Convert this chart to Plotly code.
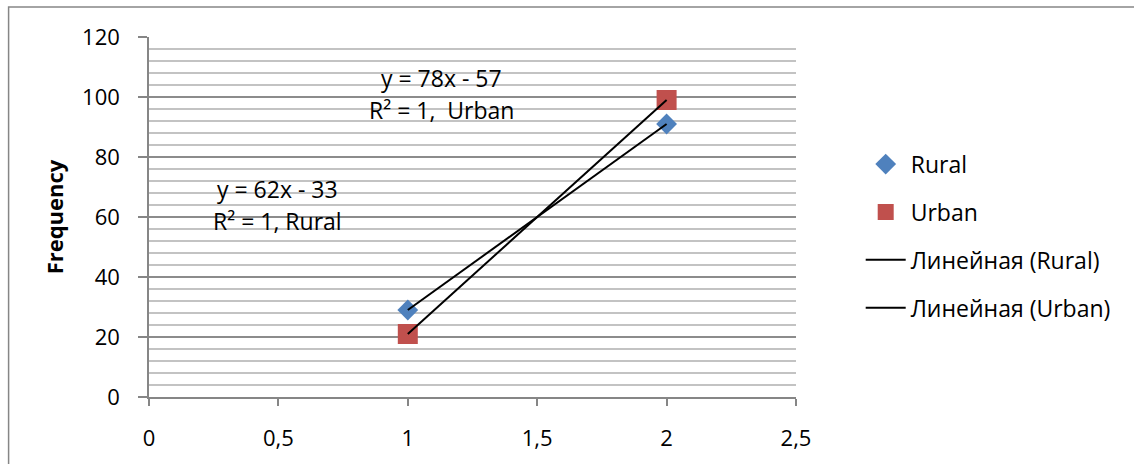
import plotly.graph_objects as go

x_vals = [1, 2]
rural = [29, 91]
urban = [21, 99]
series_names = ["Rural", "Urban", "Линейная (Rural)", "Линейная (Urban)"]
x_ticks = [0, 0.5, 1, 1.5, 2, 2.5]
x_tick_labels = ["0", "0,5", "1", "1,5", "2", "2,5"]
y_ticks = [0, 20, 40, 60, 80, 100, 120]
eq_texts = [("y = 78x - 57", 1.132, 106.4), ("R² = 1,  Urban", 1.132, 95.8),
            ("y = 62x - 33", 0.495, 69.3), ("R² = 1, Rural", 0.495, 58.7)]

FONT = "Open Sans"
fig = go.Figure()
fig.add_trace(go.Scatter(x=x_vals, y=rural, mode="markers", name=series_names[0],
                         marker=dict(symbol="diamond", size=16, color="#4F81BD"), legendgroup="a"))
fig.add_trace(go.Scatter(x=x_vals, y=urban, mode="markers", name=series_names[1],
                         marker=dict(symbol="square", size=20, color="#C0504D"), legendgroup="b"))
fig.add_trace(go.Scatter(x=x_vals, y=rural, mode="lines", name=series_names[2],
                         line=dict(color="black", width=2), legendgroup="c"))
fig.add_trace(go.Scatter(x=x_vals, y=urban, mode="lines", name=series_names[3],
                         line=dict(color="black", width=2), legendgroup="d"))

for txt, ax, ay in eq_texts:
    fig.add_annotation(x=ax, y=ay, xref="x", yref="y", showarrow=False, text=txt,
                       font=dict(family=FONT, size=23, color="black"))

fig.add_shape(type="rect", xref="paper", yref="paper", x0=-0.217, y0=-0.4, x1=1.9, y1=1.083,
              line=dict(color="#868686", width=1.5), layer="below")

fig.update_layout(
    width=1134, height=464,
    margin=dict(l=149, r=338, t=37, b=65),
    paper_bgcolor="white", plot_bgcolor="white",
    font=dict(family=FONT, size=20, color="black"),
    showlegend=True,
    legend=dict(x=1.1, y=0.447, xanchor="left", yanchor="middle",
                traceorder="grouped", tracegroupgap=15,
                font=dict(family=FONT, size=23, color="black"), itemwidth=40),
    xaxis=dict(range=[0, 2.5], tickvals=x_ticks, ticktext=x_tick_labels,
               showgrid=False, zeroline=False, showline=True, linecolor="#868686", linewidth=1.5,
               ticks="outside", ticklen=7, tickcolor="#868686", tickwidth=1.5,
               ticklabelstandoff=14, tickfont=dict(family=FONT, size=22)),
    yaxis=dict(range=[0, 120], tickvals=y_ticks,
               showgrid=True, gridcolor="#8c8c8c", gridwidth=1.5,
               zeroline=False, showline=True, linecolor="#868686", linewidth=1.5,
               ticks="outside", ticklen=9, tickcolor="#868686", tickwidth=1.5,
               ticklabelstandoff=14, tickfont=dict(family=FONT, size=22),
               minor=dict(dtick=4, showgrid=True, gridcolor="#c3c3c3", gridwidth=1.5),
               title=dict(text="<b>Frequency</b>", font=dict(family=FONT, size=22), standoff=12)),
)

fig.write_html("out.html", config={"displayModeBar": False},
               post_script="document.body.style.margin='0';")
